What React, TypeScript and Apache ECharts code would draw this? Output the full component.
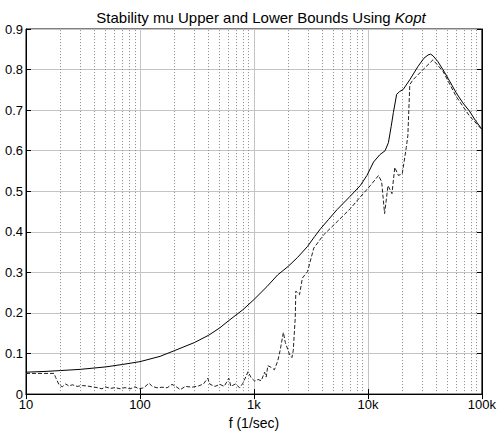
import React, { useEffect, useRef } from "react";
import * as echarts from "echarts";

const titleMain = "Stability mu Upper and Lower Bounds Using ";
const titleItalic = "Kopt";
const xAxisName = "f (1/sec)";
const xTickLabels: Record<number, string> = { 10: "10", 100: "100", 1000: "1k", 10000: "10k", 100000: "100k" };
const yTicks = [0, 0.1, 0.2, 0.3, 0.4, 0.5, 0.6, 0.7, 0.8, 0.9];

const upperFreq = [10, 15, 20, 30, 50, 70, 100, 150, 200, 300, 400, 500, 600, 800, 1000, 1300, 1617, 2000, 2415, 2951, 3400, 3848, 4500, 5370, 7000, 8570, 9800, 11200, 12700, 14150, 15130, 16000, 16720, 17870, 19000, 20400, 23300, 27550, 31000, 33700, 35500, 37200, 41000, 45500, 52000, 59400, 68000, 77600, 88000, 100000];
const upperMu = [0.054, 0.056, 0.058, 0.061, 0.067, 0.073, 0.080, 0.093, 0.107, 0.127, 0.145, 0.163, 0.181, 0.208, 0.233, 0.265, 0.294, 0.315, 0.337, 0.364, 0.388, 0.408, 0.430, 0.455, 0.488, 0.514, 0.539, 0.572, 0.590, 0.600, 0.620, 0.660, 0.694, 0.739, 0.746, 0.751, 0.775, 0.808, 0.828, 0.836, 0.838, 0.834, 0.820, 0.800, 0.772, 0.743, 0.718, 0.698, 0.674, 0.653];

const lowerFreq = [10, 17.6, 18.2, 19.5, 20.8, 22.3, 23.8, 25.5, 28.1, 31.1, 34.4, 38, 42, 46.4, 49.7, 54.8, 60.6, 67, 74, 81.9, 90.5, 98, 108, 120, 128, 141, 156, 173, 191, 211, 226, 250, 285, 326, 360, 393, 412, 455, 503, 548, 602, 627, 688, 750, 801, 887, 948, 1014, 1084, 1159, 1240, 1280, 1324, 1415, 1513, 1618, 1695, 1812, 1885, 1976, 2043, 2154, 2212, 2303, 2330, 2510, 2660, 2950, 3350, 4070, 5370, 7000, 8570, 10500, 12400, 13200, 14000, 15000, 16250, 17200, 18500, 20000, 21700, 22400, 23300, 24900, 30500, 37200, 45500, 59400, 77600, 100000];
const lowerMu = [0.051, 0.051, 0.041, 0.023, 0.018, 0.025, 0.020, 0.023, 0.019, 0.021, 0.020, 0.018, 0.016, 0.013, 0.018, 0.014, 0.016, 0.013, 0.016, 0.013, 0.018, 0.013, 0.0155, 0.027, 0.019, 0.0155, 0.017, 0.0155, 0.024, 0.017, 0.011, 0.019, 0.017, 0.020, 0.025, 0.039, 0.024, 0.019, 0.024, 0.019, 0.039, 0.019, 0.025, 0.0155, 0.027, 0.055, 0.040, 0.032, 0.036, 0.033, 0.054, 0.042, 0.070, 0.066, 0.060, 0.082, 0.107, 0.152, 0.127, 0.111, 0.099, 0.090, 0.107, 0.188, 0.254, 0.245, 0.286, 0.302, 0.360, 0.392, 0.425, 0.457, 0.486, 0.514, 0.539, 0.523, 0.445, 0.514, 0.494, 0.559, 0.539, 0.543, 0.608, 0.637, 0.763, 0.775, 0.800, 0.824, 0.796, 0.734, 0.686, 0.652];

const decades = [10, 100, 1000, 10000];
const minorMultipliers = [2, 3, 4, 5, 6, 7, 8, 9];

const FONT = "Liberation Sans, Arial, Helvetica, sans-serif";

export default function App() {
  const ref = useRef<HTMLDivElement>(null);
  useEffect(() => {
    if (!ref.current) return;
    const chart = echarts.init(ref.current, undefined, { renderer: "svg" });
    const minorLines: any[] = [];
    decades.forEach((d) => minorMultipliers.forEach((m) => minorLines.push({ xAxis: d * m })));
    const upper = upperFreq.map((f, i) => [f, upperMu[i]]);
    const lower = lowerFreq.map((f, i) => [f, lowerMu[i]]);
    const logAxisBase = {
      type: "log",
      logBase: 10,
      min: 10,
      max: 100000,
      splitNumber: 4,
    };
    chart.setOption({
      animation: false,
      backgroundColor: "#ffffff",
      title: {
        text: "{a|" + titleMain + "}{b|" + titleItalic + "}",
        left: 256,
        top: 5,
        textAlign: "center",
        textStyle: {
          fontWeight: "normal",
          rich: {
            a: { fontFamily: FONT, fontSize: 15, fontWeight: "normal", color: "#000" },
            b: { fontFamily: FONT, fontSize: 15, fontWeight: "normal", color: "#000", fontStyle: "italic" },
          },
        },
      },
      grid: {
        left: 26,
        right: 13,
        top: 29,
        bottom: 38,
        show: true,
        borderColor: "#000",
        borderWidth: 1,
        containLabel: false,
      },
      xAxis: [
        {
          ...logAxisBase,
          position: "bottom",
          name: xAxisName,
          nameLocation: "middle",
          nameGap: 11,
          nameTextStyle: { fontFamily: FONT, fontSize: 14, color: "#000" },
          axisLine: { show: true, lineStyle: { color: "#000", width: 1 } },
          axisTick: { show: true, inside: true, length: 5, lineStyle: { color: "#000" } },
          axisLabel: {
            show: true,
            fontFamily: FONT,
            fontSize: 13,
            color: "#000",
            margin: 4,
            formatter: (v: number) => xTickLabels[Math.round(v)] ?? "",
          },
          splitLine: { show: true, lineStyle: { color: "#c4c4c4", width: 1, type: "solid" } },
        },
        {
          ...logAxisBase,
          position: "top",
          axisLine: { show: true, lineStyle: { color: "#000", width: 1 } },
          axisTick: { show: true, inside: true, length: 5, lineStyle: { color: "#000" } },
          axisLabel: { show: false },
          splitLine: { show: false },
        },
      ],
      yAxis: [
        {
          type: "value",
          min: 0,
          max: 0.9,
          interval: 0.1,
          position: "left",
          axisLine: { show: true, lineStyle: { color: "#000", width: 1 } },
          axisTick: { show: true, inside: true, length: 5, lineStyle: { color: "#000" } },
          axisLabel: {
            show: true,
            fontFamily: FONT,
            fontSize: 13,
            color: "#000",
            margin: 3,
            formatter: (v: number) => {
              const t = yTicks.find((y) => Math.abs(y - v) < 1e-6);
              return t === undefined ? "" : String(t);
            },
          },
          splitLine: { show: true, lineStyle: { color: "#c4c4c4", width: 1, type: "solid" } },
        },
        {
          type: "value",
          min: 0,
          max: 0.9,
          interval: 0.1,
          position: "right",
          axisLine: { show: true, lineStyle: { color: "#000", width: 1 } },
          axisTick: { show: true, inside: true, length: 5, lineStyle: { color: "#000" } },
          axisLabel: { show: false },
          splitLine: { show: false },
        },
      ],
      series: [
        {
          type: "line",
          name: "minor",
          xAxisIndex: 0,
          yAxisIndex: 0,
          data: [],
          silent: true,
          markLine: {
            silent: true,
            symbol: "none",
            label: { show: false },
            lineStyle: { color: "#8a8a8a", width: 1, type: [1, 2] },
            data: minorLines,
            animation: false,
          },
        },
        {
          type: "line",
          name: "upper",
          data: upper,
          showSymbol: false,
          symbol: "none",
          lineStyle: { color: "#000", width: 1 },
          z: 5,
        },
        {
          type: "line",
          name: "lower",
          data: lower,
          showSymbol: false,
          symbol: "none",
          lineStyle: { color: "#222", width: 1, type: [4, 2] },
          z: 5,
        },
      ],
    });
    return () => chart.dispose();
  }, []);
  return (
    <div
      ref={ref}
      style={{ position: "absolute", left: 0, top: 0, width: 499, height: 435, background: "#fff" }}
    />
  );
}
